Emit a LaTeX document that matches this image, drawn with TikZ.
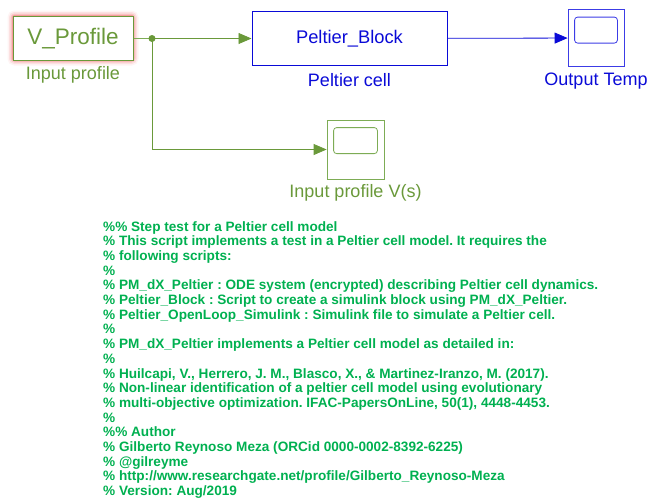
\documentclass[tikz,border=0pt]{standalone}
\usepackage{fontspec}
\setmainfont{Liberation Sans}
\usetikzlibrary{arrows.meta}
\definecolor{vgreen}{RGB}{106,153,58}
\definecolor{wgreen}{RGB}{125,172,85}
\definecolor{pblue}{RGB}{10,10,215}
\definecolor{sblue}{RGB}{60,60,230}
\definecolor{notegreen}{RGB}{0,176,80}
\definecolor{glowred}{RGB}{235,60,60}
\frenchspacing

\begin{document}
\begin{tikzpicture}[x=1pt,y=-1pt,
  arr/.style={-{Triangle[length=13pt,width=11pt]}},
  block/.style={draw,rectangle,inner sep=0pt,fill=white},
  vblock/.style={block,draw=vgreen,line width=1pt,text=vgreen,minimum width=120pt,minimum height=44pt,font=\fontsize{22.5}{26}\selectfont},
  pblock/.style={block,draw=pblue,line width=1pt,text=pblue,minimum width=195pt,minimum height=54pt,font=\fontsize{18.3}{21}\selectfont},
  gscope/.style={block,draw=wgreen,line width=0.8pt,minimum width=57pt,minimum height=59pt},
  bscope/.style={block,draw=sblue,line width=0.8pt,minimum width=56pt,minimum height=57pt},
  glbl/.style={text=vgreen,font=\fontsize{18}{21}\selectfont},
  blbl/.style={text=pblue,font=\fontsize{18}{21}\selectfont},
  gwire/.style={draw=wgreen,line width=0.8pt},
  bwire/.style={draw=sblue,line width=0.8pt}]
\useasboundingbox (0,0) rectangle (648,501);

% red glow round the source block
\foreach \w/\o in {11/0.06,8/0.1,5/0.16,2.5/0.3}
  \draw[glowred,line width=\w pt,opacity=\o,rounded corners=2pt] (13,16) rectangle (133,60);

\node[vblock]        (vprof) at (73,38.5)    {V\_Profile};
\node[pblock]        (pelt)  at (349.5,38.5) {Peltier\_Block};
\node[bscope]        (outs)  at (596,38)     {};
\node[gscope]        (ins)   at (355.5,149.5){};
\coordinate          (split) at (152,38.5);

\node[glbl]          (vlbl)  at (73,75)      {Input profile};
\node[blbl]          (plbl)  at (349.5,80.5) {Peltier cell};
\node[blbl]          (olbl)  at (596,81.5)   {Output Temp};
\node[glbl]          (ilbl)  at (355.5,192.5){Input profile V(s)};

% scope screens
\draw[sblue,line width=0.8pt,rounded corners=3pt]
  ([shift={(7,8)}]outs.north west) rectangle ([shift={(-7,34)}]outs.north east);
\draw[wgreen,line width=0.8pt,rounded corners=3pt]
  ([shift={(7,8)}]ins.north west) rectangle ([shift={(-7,34)}]ins.north east);

% signal lines
\draw[gwire]                (vprof) -- (split);
\draw[gwire,arr,vgreen]     (split) -- (pelt);
\draw[gwire,arr,vgreen]     (split) |- (ins);
\fill[vgreen]               (split) circle (3.5pt);
\draw[bwire,arr,pblue]      (pelt) -- (outs);

% header comment
\node[anchor=north west,inner sep=0pt,align=left,text=notegreen,
      font=\fontsize{13.6}{14.7}\selectfont\bfseries] (note) at (103,221) {%
\%\% Step test for a Peltier cell model\\
\% This script implements a test in a Peltier cell model. It requires the\\
\% following scripts:\\
\%\\
\% PM\_dX\_Peltier : ODE system (encrypted) describing Peltier cell dynamics.\\
\% Peltier\_Block : Script to create a simulink block using PM\_dX\_Peltier.\\
\% Peltier\_OpenLoop\_Simulink : Simulink file to simulate a Peltier cell.\\
\%\\
\% PM\_dX\_Peltier implements a Peltier cell model as detailed in:\\
\%\\
\% Huilcapi, V., Herrero, J. M., Blasco, X., \& Martinez-Iranzo, M. (2017).\\
\% Non-linear identification of a peltier cell model using evolutionary\\
\% multi-objective optimization. IFAC-PapersOnLine, 50(1), 4448-4453.\\
\%\\
\%\% Author\\
\% Gilberto Reynoso Meza (ORCid 0000-0002-8392-6225)\\
\% @gilreyme\\
\% http://www.researchgate.net/profile/Gilberto\_Reynoso-Meza\\
\% Version: Aug/2019};
\end{tikzpicture}
\end{document}
